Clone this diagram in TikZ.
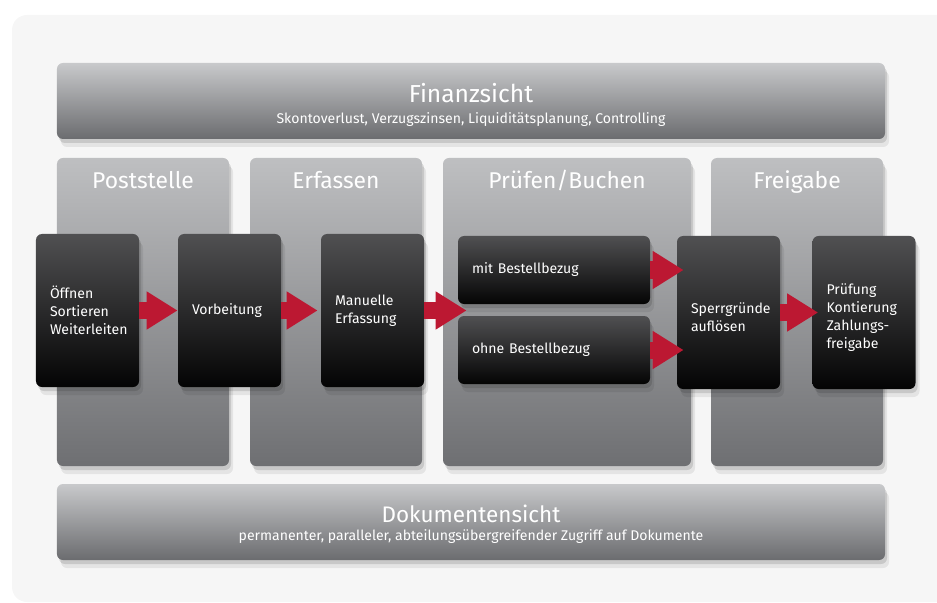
\documentclass[tikz,border=0pt]{standalone}
\usepackage{fontspec}
\setmainfont{Fira Sans}
\usetikzlibrary{arrows.meta,shadows,positioning}

\definecolor{panelbg}{HTML}{F6F6F6}
\definecolor{bartop}{HTML}{C8C9CB}
\definecolor{barbot}{HTML}{6B6C6F}
\definecolor{lanetop}{HTML}{BEBFC1}
\definecolor{lanebot}{HTML}{6E6F72}
\definecolor{boxtop}{HTML}{505052}
\definecolor{boxbot}{HTML}{040404}
\definecolor{flowred}{HTML}{BC1832}

\tikzset{
  softshadow/.style={
      general shadow={fill=black, opacity=0.07, shadow xshift=0.8mm, shadow yshift=-1.6mm},
      general shadow={fill=black, opacity=0.12, shadow xshift=0.4mm, shadow yshift=-0.8mm}},
  viewbar/.style={rounded corners=1.2mm, top color=bartop, bottom color=barbot,
      minimum width=165.6mm, minimum height=15.2mm, softshadow},
  lane/.style={rounded corners=1.2mm, top color=lanetop, bottom color=lanebot,
      minimum width=34.4mm, minimum height=61.6mm, softshadow},
  lanetitle/.style={text=white, anchor=base, font=\fontsize{13}{15}\selectfont},
  stepbox/.style={rounded corners=1.2mm, top color=boxtop, bottom color=boxbot,
      text=white, font=\fontsize{8}{10.2}\selectfont, align=left,
      text width=15mm, inner xsep=2.8mm, minimum height=30.6mm, softshadow},
  widebox/.style={stepbox, text width=32.8mm, minimum height=13.6mm},
  flow/.style={draw=flowred, line width=3.4mm,
      -{Triangle[length=6.2mm,width=7.2mm]}},
}

\begin{document}
\begin{tikzpicture}[x=0.2mm,y=-0.2mm]
  \useasboundingbox (0,0) rectangle (937,603);
  \fill[panelbg, rounded corners=3mm] (12,15) rectangle (960,602);

  % views
  \node[viewbar] (fin) at (471,101) {};
  \node[text=white, align=center, font=\fontsize{14}{17}\selectfont] (fintext) at (471,105)
      {Finanzsicht\\[-5pt]{\fontsize{8}{10}\selectfont Skontoverlust, Verzugszinsen, Liquiditätsplanung, Controlling}};
  \node[viewbar] (dok) at (471,522) {};
  \node[text=white, align=center, font=\fontsize{12.8}{15}\selectfont] (doktext) at (471,524)
      {Dokumentensicht\\[-5pt]{\fontsize{8}{10}\selectfont permanenter, paralleler, abteilungsübergreifender Zugriff auf Dokumente}};

  % lanes
  \node[lane] (post) at (143,312) {};
  \node[lane] (erf) at (336,312) {};
  \node[lane, minimum width=49.6mm] (pruef) at (567,312) {};
  \node[lane] (frei) at (797,312) {};
  \node[lanetitle] (tpost) at (143,189) {Poststelle};
  \node[lanetitle] (terf) at (336,189) {Erfassen};
  \node[lanetitle] (tpruef) at (567,189) {Prüfen/Buchen};
  \node[lanetitle] (tfrei) at (797,189) {Freigabe};

  % steps
  \node[stepbox] (oeff) at (87.5,310.5) {Öffnen\\Sortieren\\Weiterleiten};
  \node[stepbox] (vorb) at (229.5,310.5) {Vorbeitung};
  \node[stepbox] (manu) at (372.5,310.5) {Manuelle\\Erfassung};
  \node[widebox] (mit) at (554,270) {mit Bestellbezug};
  \node[widebox] (ohne) at (554,350) {ohne Bestellbezug};
  \node[stepbox] (sperr) at (728.5,312.5) {\rule{0pt}{11pt}Sperrgründe\\auflösen};
  \node[stepbox] (frg) at (864,312.5) {\rule{0pt}{12pt}Prüfung\\Kontierung\\Zahlungs-\\freigabe};

  \draw[flow] (oeff.east) -- (vorb.west);
  \draw[flow, shorten >=0.6mm] (vorb.east) -- (manu.west);
  \draw[flow, shorten >=-1.8mm] (manu.east) -- (manu.east -| mit.west);
  \draw[flow, shorten >=-1.4mm] (mit.east) -- (mit.east -| sperr.west);
  \draw[flow, shorten >=-1.4mm] (ohne.east) -- (ohne.east -| sperr.west);
  \draw[flow, shorten >=-1.2mm] (sperr.east) -- (frg.west);
\end{tikzpicture}
\end{document}
